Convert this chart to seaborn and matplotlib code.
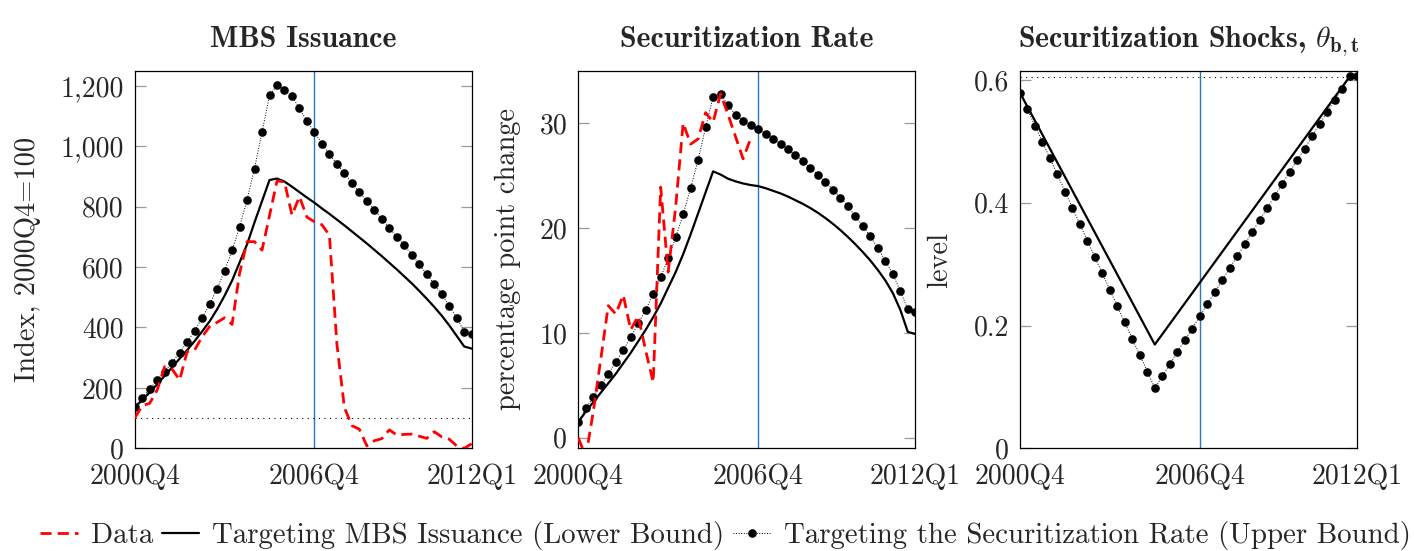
import matplotlib
matplotlib.use("Agg")
import matplotlib.pyplot as plt
from matplotlib.ticker import FuncFormatter, FixedLocator
import seaborn as sns

# Quarterly grid 2000Q4 ... 2012Q1 (46 quarters)
quarters = list(range(46))
tick_pos = [0, 24, 45]
tick_labels = ["2000Q4", "2006Q4", "2012Q1"]
event_quarter = 24  # 2006Q4

# MBS issuance index, 2000Q4 = 100
mbs_data = [100, 141, 149, 193, 270, 262, 226, 320, 325, 369, 403, 417, 432, 410,
            579, 684, 684, 656, 770, 885, 882, 772, 833, 765, 750, 740, 705, 345,
            135, 75, 63, 8, 25, 32, 61, 44, 46, 47, 40, 33, 55, 38, 30, 8, 0, 15]
mbs_lower = [135, 160, 185, 212, 240, 268, 297, 325, 355, 387, 420, 460, 505, 555,
             615, 675, 748, 818, 888, 893, 883, 866, 848, 830, 813, 794, 776, 757,
             738, 718, 698, 678, 657, 636, 614, 592, 569, 546, 521, 495, 468, 439,
             407, 372, 337, 330]
mbs_upper = [136, 168, 196, 226, 254, 284, 317, 351, 389, 432, 477, 528, 588, 655,
             733, 822, 926, 1047, 1168, 1202, 1186, 1166, 1125, 1083, 1046, 1009,
             974, 941, 910, 879, 848, 818, 790, 760, 730, 700, 672, 641, 610, 576,
             544, 510, 472, 432, 386, 378]
mbs_baseline = 100

# Securitization rate, percentage point change
rate_data = [0.0, -1.8, 2.5, 7.5, 12.6, 11.8, 13.6, 10.3, 11.6, 8.3, 5.3, 23.9,
             15.8, 22.0, 30.0, 28.0, 28.5, 31.0, 30.1, 32.8, 30.8, 28.7, 26.6, 28.5]
rate_lower = [1.5, 2.5, 3.4, 4.3, 5.2, 6.1, 7.1, 8.1, 9.2, 10.3, 11.5, 12.8, 14.3,
              15.8, 17.5, 19.4, 21.4, 23.4, 25.4, 25.1, 24.7, 24.45, 24.25, 24.1,
              24.0, 23.8, 23.55, 23.3, 23.0, 22.65, 22.3, 21.9, 21.45, 20.95, 20.4,
              19.8, 19.15, 18.45, 17.7, 16.9, 16.0, 15.0, 13.8, 12.2, 10.1, 9.9]
rate_upper = [1.5, 2.8, 3.9, 5.0, 6.1, 7.2, 8.35, 9.6, 10.9, 12.2, 13.7, 15.3, 17.1,
              19.1, 21.3, 23.8, 26.5, 29.6, 32.5, 32.8, 31.7, 30.8, 30.25, 29.8,
              29.4, 29.0, 28.5, 28.0, 27.5, 26.95, 26.4, 25.7, 25.1, 24.4, 23.65,
              22.9, 22.1, 21.1, 20.2, 19.2, 18.1, 16.9, 15.6, 14.0, 12.25, 12.0]

# Securitization shocks theta_{b,t}
shock_lower_q = [0, 18, 44, 45]
shock_lower = [0.579, 0.169, 0.605, 0.605]
shock_upper = [0.579, 0.552, 0.525, 0.499, 0.472, 0.446, 0.418, 0.392, 0.365,
               0.338, 0.311, 0.285, 0.258, 0.231, 0.205, 0.178, 0.152, 0.125,
               0.098, 0.117, 0.137, 0.157, 0.176, 0.195, 0.215, 0.235, 0.254,
               0.274, 0.293, 0.313, 0.332, 0.352, 0.372, 0.391, 0.411, 0.430,
               0.450, 0.469, 0.488, 0.508, 0.528, 0.547, 0.567, 0.586, 0.606, 0.606]
shock_cap = 0.605

sns.set_style("white")
plt.rcParams["font.family"] = ["cmr10", "DejaVu Serif"]
plt.rcParams["mathtext.fontset"] = "cm"
plt.rcParams["axes.unicode_minus"] = False
plt.rcParams["axes.formatter.use_mathtext"] = True

FS = 20
RED = "#ff0000"
BLUE = "#2878bd"
DASH = (0, (4.0, 2.2))

fig = plt.figure(figsize=(14.14, 5.51), dpi=100)
ax_w, ax_h, ax_b = 337 / 1414, 377.6 / 551, 1 - 448.3 / 551
lefts = [134.7 / 1414, 578.3 / 1414, 1020 / 1414]
axes = [fig.add_axes([l, ax_b, ax_w, ax_h]) for l in lefts]


def style_axis(ax, ylim, yticks, fmt, title, ylabel, labelpad):
    ax.set_xlim(0, 45)
    ax.set_ylim(*ylim)
    ax.xaxis.set_major_locator(FixedLocator(tick_pos))
    ax.set_xticklabels(tick_labels)
    ax.yaxis.set_major_locator(FixedLocator(yticks))
    ax.yaxis.set_major_formatter(FuncFormatter(fmt))
    ax.tick_params(axis="x", length=0, pad=11, labelsize=FS)
    ax.tick_params(axis="y", direction="in", length=8, width=0.9, color="#9a9a9a",
                   left=True, right=True, pad=8, labelsize=FS)
    for s in ax.spines.values():
        s.set_color("black")
        s.set_linewidth(0.9)
        s.set_visible(True)
    ax.set_title(title, fontsize=21.5, fontfamily=["cmb10", "DejaVu Serif"], pad=17)
    ax.set_ylabel(ylabel, fontsize=20.5, labelpad=labelpad)
    ax.set_xlabel("")
    ax.axvline(event_quarter, color=BLUE, lw=1.0, zorder=1)


def draw_upper(ax, y):
    sns.lineplot(x=quarters, y=y, ax=ax, color="black", lw=0.7, linestyle=":",
                 marker="o", markersize=6.2, markeredgewidth=0, estimator=None,
                 sort=False, zorder=3)


def draw_lower(ax, x, y):
    sns.lineplot(x=x, y=y, ax=ax, color="black", lw=1.6, estimator=None,
                 sort=False, zorder=4)


def draw_data(ax, y):
    sns.lineplot(x=quarters[:len(y)], y=y, ax=ax, color=RED, lw=2.0,
                 linestyle=DASH, estimator=None, sort=False, zorder=5)


# MBS issuance
ax = axes[0]
ax.axhline(mbs_baseline, color="black", lw=0.8, linestyle=(0, (1, 4)), zorder=2)
draw_upper(ax, mbs_upper)
draw_lower(ax, quarters, mbs_lower)
draw_data(ax, mbs_data)
style_axis(ax, (0, 1250), [0, 200, 400, 600, 800, 1000, 1200],
           lambda v, p: f"{v:,.0f}", "MBS Issuance", "Index, 2000Q4=100", 14)

# Securitization rate
ax = axes[1]
draw_upper(ax, rate_upper)
draw_lower(ax, quarters, rate_lower)
draw_data(ax, rate_data)
style_axis(ax, (-1, 35), [0, 10, 20, 30], lambda v, p: f"{v:.0f}",
           "Securitization Rate", "percentage point change", 13)

# Securitization shocks
ax = axes[2]
ax.axhline(shock_cap, color="black", lw=0.8, linestyle=(0, (1, 4)), zorder=2)
draw_upper(ax, shock_upper)
draw_lower(ax, shock_lower_q, shock_lower)
style_axis(ax, (0, 0.615), [0, 0.2, 0.4, 0.6],
           lambda v, p: "0" if v == 0 else f"{v:.1f}",
           r"Securitization Shocks, $\theta_{\mathbf{b,t}}$", "level", 15)

# Shared legend below the panels
h = [
    plt.Line2D([], [], color=RED, lw=2.0, linestyle=DASH),
    plt.Line2D([], [], color="black", lw=1.6),
    plt.Line2D([], [], color="black", lw=0.7, linestyle=":", marker="o",
               markersize=6.2, markeredgewidth=0),
]
labels = ["Data", "Targeting MBS Issuance (Lower Bound)",
          "Targeting the Securitization Rate (Upper Bound)"]
fig.legend(h, labels, loc="center", bbox_to_anchor=(0.513, 0.028), ncol=3,
           frameon=False, fontsize=20.8, handlelength=1.3, handletextpad=0.45,
           columnspacing=0.3, numpoints=1, borderaxespad=0)

fig.savefig("out.png", dpi=100)
